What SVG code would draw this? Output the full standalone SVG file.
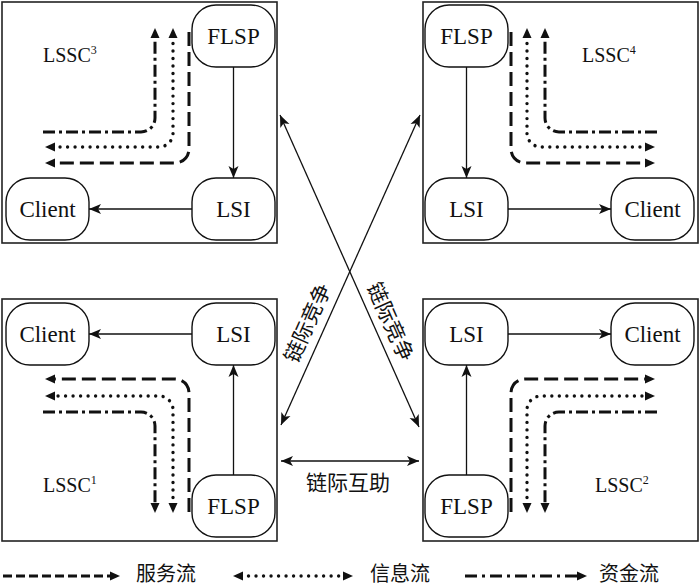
<svg xmlns="http://www.w3.org/2000/svg" width="700" height="587" viewBox="0 0 700 587">
<style>
.box{fill:none;stroke:#222;stroke-width:1.6}
.node rect{fill:#fff;stroke:#111;stroke-width:1.4}
.nt{font-family:"Liberation Serif","Times New Roman",serif;font-size:23px;fill:#111;text-anchor:middle}
.lab{font-family:"Liberation Serif","Times New Roman",serif;font-size:20px;fill:#111}
.sup{font-size:12px}
.cn{font-family:"Noto Sans CJK SC",sans-serif;font-size:21px;fill:#111}
.lg{font-family:"Noto Sans CJK SC",sans-serif;font-size:20px;fill:#111}
.conn{fill:none;stroke:#111;stroke-width:1.3}
.svc{fill:none;stroke:#111;stroke-width:3;stroke-dasharray:14 6}
.info{fill:none;stroke:#111;stroke-width:3.4;stroke-dasharray:0.01 7.5;stroke-linecap:round}
.fund{fill:none;stroke:#111;stroke-width:3;stroke-dasharray:12 4 3 4}
</style>
<defs>
<marker id="ah" markerUnits="userSpaceOnUse" markerWidth="12" markerHeight="10" refX="12" refY="5" orient="auto-start-reverse" overflow="visible">
<path d="M0,0 L12,5 L0,10 L3,5 z" fill="#111"/>
</marker>
<marker id="fa" markerUnits="userSpaceOnUse" markerWidth="10" markerHeight="9" refX="2" refY="4.5" orient="auto-start-reverse" overflow="visible">
<path d="M0,0 L10,4.5 L0,9 z" fill="#111"/>
</marker>
</defs>

<g id="chains">
<rect class="box" x="2" y="2" width="275" height="241"/>
<rect class="box" x="423" y="2" width="275" height="241"/>
<rect class="box" x="2" y="299" width="275" height="242"/>
<rect class="box" x="423" y="299" width="275" height="242"/>
<text class="lab" x="43" y="62">LSSC<tspan class="sup" dy="-8">3</tspan></text>
<text class="lab" x="582" y="62">LSSC<tspan class="sup" dy="-8">4</tspan></text>
<text class="lab" x="43" y="492">LSSC<tspan class="sup" dy="-8">1</tspan></text>
<text class="lab" x="595" y="492">LSSC<tspan class="sup" dy="-8">2</tspan></text>
</g>

<g id="connectors">
<line class="conn" x1="233.5" y1="67" x2="233.5" y2="178" marker-end="url(#ah)"/>
<line class="conn" x1="192" y1="209" x2="89" y2="209" marker-end="url(#ah)"/>
<line class="conn" x1="466.5" y1="67" x2="466.5" y2="178" marker-end="url(#ah)"/>
<line class="conn" x1="508" y1="209" x2="611" y2="209" marker-end="url(#ah)"/>
<line class="conn" x1="192" y1="334" x2="89" y2="334" marker-end="url(#ah)"/>
<line class="conn" x1="233.5" y1="475" x2="233.5" y2="365" marker-end="url(#ah)"/>
<line class="conn" x1="508" y1="334" x2="611" y2="334" marker-end="url(#ah)"/>
<line class="conn" x1="466.5" y1="475" x2="466.5" y2="365" marker-end="url(#ah)"/>
<line class="conn" x1="280" y1="115" x2="419" y2="427" marker-start="url(#ah)" marker-end="url(#ah)"/>
<line class="conn" x1="420" y1="115" x2="281" y2="425" marker-start="url(#ah)" marker-end="url(#ah)"/>
<line class="conn" x1="281" y1="461" x2="419" y2="461" marker-start="url(#ah)" marker-end="url(#ah)"/>
<text class="cn" transform="translate(308,323) rotate(-65.8)" x="0" y="7" text-anchor="middle">链际竞争</text>
<text class="cn" transform="translate(390,322) rotate(66)" x="0" y="7" text-anchor="middle">链际竞争</text>
<text class="cn" x="348" y="490" text-anchor="middle">链际互助</text>

<path class="svc" d="M189,32 V149 A14,14 0 0 1 175,163 H53" marker-end="url(#fa)"/>
<path class="info" d="M173,36 V133 A14,14 0 0 1 159,147 H53" marker-start="url(#fa)" marker-end="url(#fa)"/>
<path class="fund" d="M43,132 H141 A14,14 0 0 0 155,118 V36" marker-end="url(#fa)"/>

<path class="svc" d="M511,32 V149 A14,14 0 0 0 525,163 H647" marker-end="url(#fa)"/>
<path class="info" d="M527,36 V133 A14,14 0 0 0 541,147 H647" marker-start="url(#fa)" marker-end="url(#fa)"/>
<path class="fund" d="M657,132 H559 A14,14 0 0 1 545,118 V36" marker-end="url(#fa)"/>

<path class="svc" d="M189,512 V393 A14,14 0 0 0 175,379 H53" marker-end="url(#fa)"/>
<path class="info" d="M173,505 V410 A14,14 0 0 0 159,396 H53" marker-start="url(#fa)" marker-end="url(#fa)"/>
<path class="fund" d="M43,412 H141 A14,14 0 0 1 155,426 V505" marker-end="url(#fa)"/>

<path class="svc" d="M511,512 V393 A14,14 0 0 1 525,379 H647" marker-end="url(#fa)"/>
<path class="info" d="M527,505 V410 A14,14 0 0 1 541,396 H647" marker-start="url(#fa)" marker-end="url(#fa)"/>
<path class="fund" d="M657,412 H559 A14,14 0 0 0 545,426 V505" marker-end="url(#fa)"/>
</g>

<g id="n-tl-flsp" class="node"><rect x="192" y="5" width="83" height="62" rx="24"/><text class="nt" x="233.5" y="44">FLSP</text></g>
<g id="n-tl-lsi" class="node"><rect x="192" y="178" width="83" height="62" rx="24"/><text class="nt" x="233.5" y="217">LSI</text></g>
<g id="n-tl-client" class="node"><rect x="6" y="178" width="83" height="62" rx="24"/><text class="nt" x="47.5" y="217">Client</text></g>

<g id="n-tr-flsp" class="node"><rect x="425" y="5" width="83" height="62" rx="24"/><text class="nt" x="466.5" y="44">FLSP</text></g>
<g id="n-tr-lsi" class="node"><rect x="425" y="178" width="83" height="62" rx="24"/><text class="nt" x="466.5" y="217">LSI</text></g>
<g id="n-tr-client" class="node"><rect x="611" y="178" width="83" height="62" rx="24"/><text class="nt" x="652.5" y="217">Client</text></g>

<g id="n-bl-client" class="node"><rect x="6" y="303" width="83" height="62" rx="24"/><text class="nt" x="47.5" y="342">Client</text></g>
<g id="n-bl-lsi" class="node"><rect x="192" y="303" width="83" height="62" rx="24"/><text class="nt" x="233.5" y="342">LSI</text></g>
<g id="n-bl-flsp" class="node"><rect x="192" y="475" width="83" height="62" rx="24"/><text class="nt" x="233.5" y="514">FLSP</text></g>

<g id="n-br-lsi" class="node"><rect x="425" y="303" width="83" height="62" rx="24"/><text class="nt" x="466.5" y="342">LSI</text></g>
<g id="n-br-client" class="node"><rect x="611" y="303" width="83" height="62" rx="24"/><text class="nt" x="652.5" y="342">Client</text></g>
<g id="n-br-flsp" class="node"><rect x="425" y="475" width="83" height="62" rx="24"/><text class="nt" x="466.5" y="514">FLSP</text></g>

<g id="legend">
<path d="M3,576 H112" fill="none" stroke="#111" stroke-width="3" stroke-dasharray="9 4" marker-end="url(#fa)"/>
<text class="lg" x="136" y="581">服务流</text>
<path class="info" d="M241,576 H345" marker-start="url(#fa)" marker-end="url(#fa)"/>
<text class="lg" x="370" y="581">信息流</text>
<path d="M465,576 H579" fill="none" stroke="#111" stroke-width="3" stroke-dasharray="12 5 3 5" marker-end="url(#fa)"/>
<text class="lg" x="599" y="581">资金流</text>
</g>
</svg>
